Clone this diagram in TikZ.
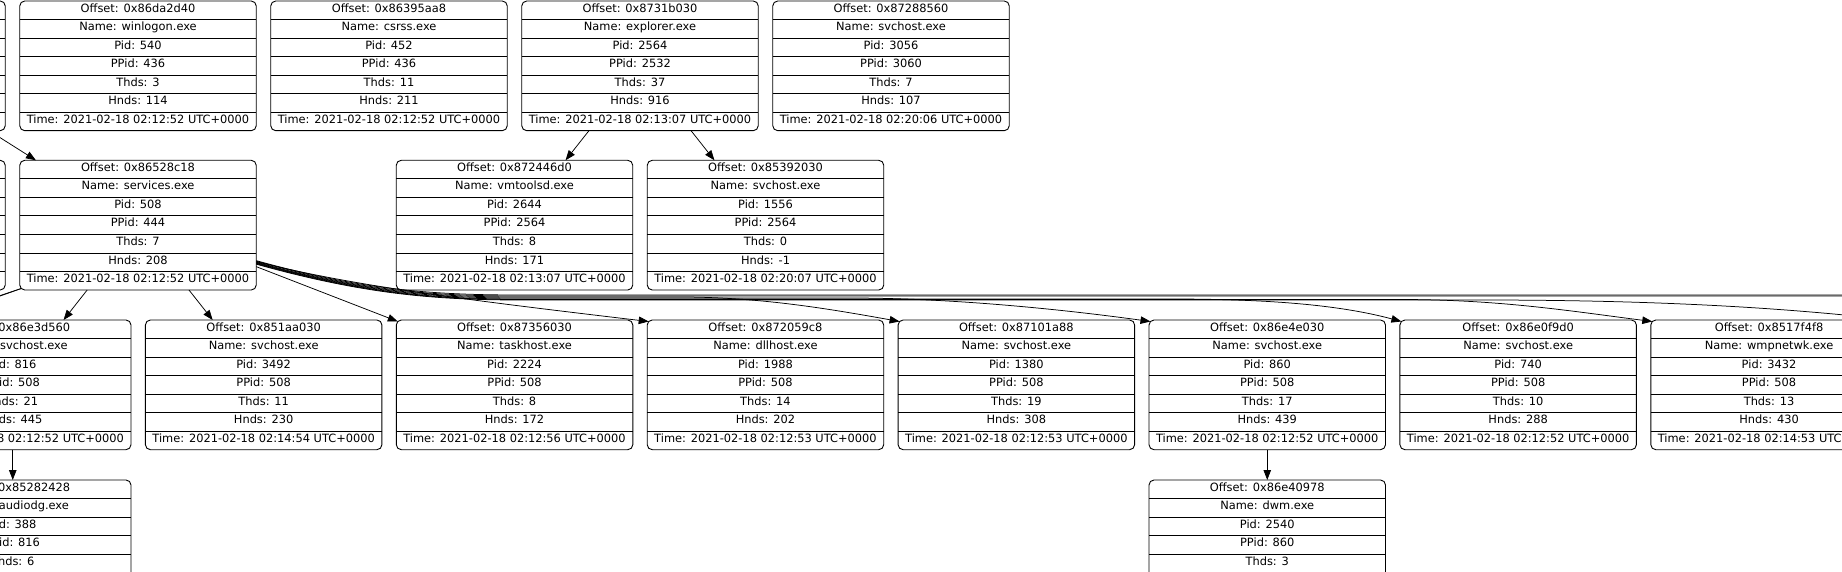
\documentclass[tikz,border=0pt]{standalone}
\usepackage{fontspec}
\setmainfont{DejaVu Sans}
\usetikzlibrary{arrows.meta}
\tikzset{
 pbox/.style={draw=black, line width=0.9pt, rounded corners=5pt, minimum width=236.5pt, minimum height=129.7pt, inner sep=0pt, outer sep=0pt, anchor=north},
 pline/.style={draw=black, line width=0.9pt},
 ptxt/.style={anchor=base, inner sep=0pt, font=\fontsize{11.4}{13.7}\selectfont, text=black},
 conn/.style={draw=black, line width=0.75pt, -{Triangle[length=10pt,width=7.5pt]}},
}
\newcommand\pbox[9]{%
 \node[pbox] (#1) at (#2) {};
 \foreach \k in {1,...,6}{\draw[pline] ([yshift={-\k*18.53pt}]#1.north west) -- ([yshift={-\k*18.53pt}]#1.north east);}
 \node[ptxt] at ([yshift=-11.1pt]#1.north) {#3};
 \node[ptxt] at ([yshift=-29.63pt]#1.north) {#4};
 \node[ptxt] at ([yshift=-48.16pt]#1.north) {#5};
 \node[ptxt] at ([yshift=-66.69pt]#1.north) {#6};
 \node[ptxt] at ([yshift=-85.22pt]#1.north) {#7};
 \node[ptxt] at ([yshift=-103.75pt]#1.north) {#8};
 \node[ptxt] at ([yshift=-122.28pt]#1.north) {#9};
}
\begin{document}
\begin{tikzpicture}[x=1pt,y=-1pt]
\useasboundingbox (0,0) rectangle (1842,572);
\fill[white] (0,0) rectangle (1842,572);
\clip (0,0) rectangle (1842,572);
% row 1
\pbox{L1}{-113,1}{}{}{}{}{}{}{}
\pbox{winlogon}{138,1}{Offset: 0x86da2d40}{Name: winlogon.exe}{Pid: 540}{PPid: 436}{Thds: 3}{Hnds: 114}{Time: 2021-02-18 02:12:52 UTC+0000}
\pbox{csrss}{389,1}{Offset: 0x86395aa8}{Name: csrss.exe}{Pid: 452}{PPid: 436}{Thds: 11}{Hnds: 211}{Time: 2021-02-18 02:12:52 UTC+0000}
\pbox{explorer}{640,1}{Offset: 0x8731b030}{Name: explorer.exe}{Pid: 2564}{PPid: 2532}{Thds: 37}{Hnds: 916}{Time: 2021-02-18 02:13:07 UTC+0000}
\pbox{svcA}{891,1}{Offset: 0x87288560}{Name: svchost.exe}{Pid: 3056}{PPid: 3060}{Thds: 7}{Hnds: 107}{Time: 2021-02-18 02:20:06 UTC+0000}
% row 2
\pbox{L2}{-113,160.3}{}{}{}{}{}{}{}
\pbox{services}{138,160.3}{Offset: 0x86528c18}{Name: services.exe}{Pid: 508}{PPid: 444}{Thds: 7}{Hnds: 208}{Time: 2021-02-18 02:12:52 UTC+0000}
\pbox{vmtoolsd}{514.5,160.3}{Offset: 0x872446d0}{Name: vmtoolsd.exe}{Pid: 2644}{PPid: 2564}{Thds: 8}{Hnds: 171}{Time: 2021-02-18 02:13:07 UTC+0000}
\pbox{svcB}{765.5,160.3}{Offset: 0x85392030}{Name: svchost.exe}{Pid: 1556}{PPid: 2564}{Thds: 0}{Hnds: -1}{Time: 2021-02-18 02:20:07 UTC+0000}
% row 3
\pbox{sA}{12.75,320}{Offset: 0x86e3d560}{Name: svchost.exe}{Pid: 816}{PPid: 508}{Thds: 21}{Hnds: 445}{Time: 2021-02-18 02:12:52 UTC+0000}
\pbox{sB}{263.65,320}{Offset: 0x851aa030}{Name: svchost.exe}{Pid: 3492}{PPid: 508}{Thds: 11}{Hnds: 230}{Time: 2021-02-18 02:14:54 UTC+0000}
\pbox{sC}{514.55,320}{Offset: 0x87356030}{Name: taskhost.exe}{Pid: 2224}{PPid: 508}{Thds: 8}{Hnds: 172}{Time: 2021-02-18 02:12:56 UTC+0000}
\pbox{sD}{765.45,320}{Offset: 0x872059c8}{Name: dllhost.exe}{Pid: 1988}{PPid: 508}{Thds: 14}{Hnds: 202}{Time: 2021-02-18 02:12:53 UTC+0000}
\pbox{sE}{1016.35,320}{Offset: 0x87101a88}{Name: svchost.exe}{Pid: 1380}{PPid: 508}{Thds: 19}{Hnds: 308}{Time: 2021-02-18 02:12:53 UTC+0000}
\pbox{sF}{1267.25,320}{Offset: 0x86e4e030}{Name: svchost.exe}{Pid: 860}{PPid: 508}{Thds: 17}{Hnds: 439}{Time: 2021-02-18 02:12:52 UTC+0000}
\pbox{sG}{1518.15,320}{Offset: 0x86e0f9d0}{Name: svchost.exe}{Pid: 740}{PPid: 508}{Thds: 10}{Hnds: 288}{Time: 2021-02-18 02:12:52 UTC+0000}
\pbox{sH}{1769.05,320}{Offset: 0x8517f4f8}{Name: wmpnetwk.exe}{Pid: 3432}{PPid: 508}{Thds: 13}{Hnds: 430}{Time: 2021-02-18 02:14:53 UTC+0000}
% row 4
\pbox{audiodg}{12.75,480}{Offset: 0x85282428}{Name: audiodg.exe}{Pid: 388}{PPid: 816}{Thds: 6}{}{}
\pbox{dwm}{1267.25,480}{Offset: 0x86e40978}{Name: dwm.exe}{Pid: 2540}{PPid: 860}{Thds: 3}{}{}
% off-canvas end points
\coordinate (offL1) at (-100,329);
\coordinate (offL2) at (-100,331.5);
\coordinate (offR1) at (1904.5,321.5);
\coordinate (offR2) at (1900,295);
\coordinate (offR3) at (1900,296);
% straight edges
\draw[conn] (L1) -- (services);
\draw[conn] (explorer) -- (vmtoolsd);
\draw[conn] (explorer) -- (svcB);
\draw[conn] (services) -- (sA);
\draw[conn] (services) -- (sB);
\draw[conn] ([yshift=-41.5pt]services.east) -- ([xshift=1.5pt,yshift=-1.5pt]sC.north west);
\draw[conn] (sA) -- (audiodg);
\draw[conn] (sF) -- (dwm);
\draw[conn] ([xshift=1.5pt,yshift=1.5pt]services.south west) -- (offL1);
\draw[conn] ([xshift=1.5pt,yshift=1.5pt]services.south west) -- (offL2);
% curved bundle
\draw[conn] ([yshift=-36.5pt]services.east) .. controls (350,285) and (450,298) .. ([xshift=1.5pt,yshift=-1.5pt]sD.north west);
\draw[conn] ([yshift=-37pt]services.east) .. controls (360,291) and (430,297) .. (520,297) -- (680,297) .. controls (760,297) and (830,309) .. ([xshift=1.5pt,yshift=-1.5pt]sE.north west);
\draw[conn] ([yshift=-37.5pt]services.east) .. controls (360,291.5) and (430,298) .. (520,298) -- (850,298) .. controls (950,298) and (1060,309) .. ([xshift=1.5pt,yshift=-1.5pt]sF.north west);
\draw[conn] ([yshift=-38pt]services.east) .. controls (360,292) and (430,299) .. (520,299) -- (1170,299) .. controls (1270,299) and (1340,305) .. ([xshift=1.5pt,yshift=-1.5pt]sG.north west);
\draw[conn] ([yshift=-38.5pt]services.east) .. controls (360,292.5) and (430,299.5) .. (520,299.5) -- (1400,299.5) .. controls (1500,299.5) and (1570,311) .. ([xshift=1.5pt,yshift=-1.5pt]sH.north west);
\draw[conn] ([yshift=-39pt]services.east) .. controls (360,293) and (430,300) .. (520,300) -- (1480,300) .. controls (1650,300) and (1780,307) .. (offR1);
\draw[conn] ([yshift=-35.5pt]services.east) .. controls (360,289.5) and (430,295) .. (520,295) -- (offR2);
\draw[conn] ([yshift=-36pt]services.east) .. controls (360,290.5) and (430,296) .. (520,296) -- (offR3);
\end{tikzpicture}
\end{document}
